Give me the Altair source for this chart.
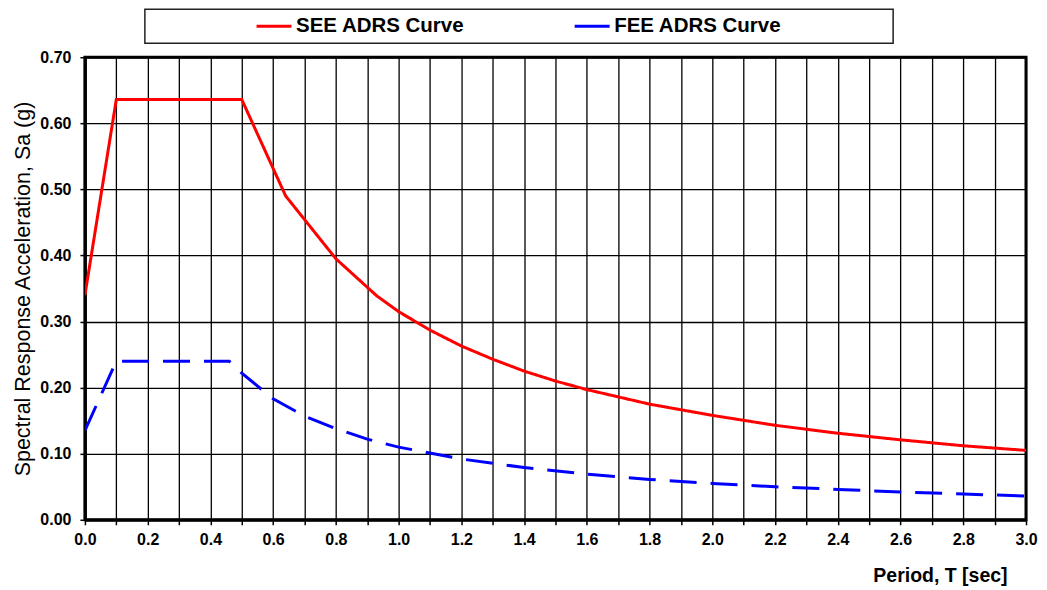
import altair as alt
import pandas as pd

# ---- data ----
T_SEE = [0.0, 0.1, 0.5, 0.64, 0.8, 0.93, 1.0, 1.1, 1.2, 1.3, 1.4, 1.5, 1.6, 1.8, 2.0, 2.2, 2.4, 2.6, 2.8, 3.0]
SA_SEE = [0.34, 0.636, 0.636, 0.49, 0.395, 0.339, 0.315, 0.287, 0.263, 0.243, 0.225, 0.21, 0.197, 0.175, 0.158, 0.143, 0.131, 0.121, 0.112, 0.105]

T_FEE = [0.0, 0.1, 0.46, 0.5, 0.6, 0.7, 0.8, 0.9, 1.0, 1.2, 1.4, 1.6, 1.8, 2.0, 2.2, 2.4, 2.6, 2.8, 3.0]
SA_FEE = [0.135, 0.24, 0.24, 0.222, 0.183, 0.157, 0.138, 0.122, 0.11, 0.092, 0.079, 0.069, 0.061, 0.055, 0.05, 0.046, 0.042, 0.039, 0.036]

SERIES = ["SEE ADRS Curve", "FEE ADRS Curve"]
COLORS = ["#ff0000", "#0000ff"]
DASHES = [[1, 0], [27, 14]]

X_TICKS = [round(i * 0.1, 1) for i in range(31)]
Y_TICKS = [round(i * 0.1, 1) for i in range(8)]

FONT = "Liberation Sans"

df = pd.concat([
    pd.DataFrame({"T": T_SEE, "Sa": SA_SEE, "series": SERIES[0]}),
    pd.DataFrame({"T": T_FEE, "Sa": SA_FEE, "series": SERIES[1]}),
])
leg_df = pd.DataFrame({"series": SERIES})

color = alt.Color("series:N", scale=alt.Scale(domain=SERIES, range=COLORS), legend=None)

x_axis = alt.Axis(
    values=X_TICKS,
    labelExpr="(round(datum.value*10) % 2 == 0) ? format(datum.value, '.1f') : ''",
    grid=True, gridColor="black", gridWidth=1.3, gridOpacity=1,
    domainColor="black", domainWidth=3,
    tickColor="black", tickSize=5, tickWidth=1.5,
    labelFont=FONT, labelFontSize=16, labelFontWeight="bold", labelColor="black",
    labelPadding=7, labelOverlap=False, labelFlush=False,
    title="Period, T [sec]", titleFont=FONT, titleFontSize=19.5, titleFontWeight="bold",
    titleColor="black", titleAlign="right", titleX=923, titleY=62, titleBaseline="alphabetic",
)
y_axis = alt.Axis(
    values=Y_TICKS, format=".2f",
    grid=True, gridColor="black", gridWidth=1.3, gridOpacity=1,
    domainColor="black", domainWidth=3,
    tickColor="black", tickSize=5, tickWidth=1.5,
    labelFont=FONT, labelFontSize=16, labelFontWeight="bold", labelColor="black",
    labelPadding=9, labelFlush=False,
    title="Spectral Response Acceleration, Sa (g)", titleFont=FONT, titleFontSize=21.5,
    titleFontWeight="normal", titleColor="black", titlePadding=5,
)

main = alt.Chart(df).mark_line(strokeWidth=3, clip=True).encode(
    x=alt.X("T:Q", scale=alt.Scale(domain=[0, 3.0], nice=False), axis=x_axis),
    y=alt.Y("Sa:Q", scale=alt.Scale(domain=[0, 0.7], nice=False), axis=y_axis),
    color=color,
    strokeDash=alt.StrokeDash("series:N", scale=alt.Scale(domain=SERIES, range=DASHES), legend=None),
    detail="series:N",
).properties(
    width=942, height=463,
    view=alt.ViewBackground(stroke="black", strokeWidth=3),
)

leg_x = alt.X("series:N", scale=alt.Scale(type="point", domain=SERIES, padding=0.676), axis=None)
leg_sym = alt.Chart(leg_df).mark_point(
    shape="stroke", size=1225, strokeWidth=3, filled=False, xOffset=-86, opacity=1
).encode(x=leg_x, color=color)
leg_txt = alt.Chart(leg_df).mark_text(
    align="left", baseline="middle", dx=-64, font=FONT, fontSize=20.5, fontWeight="bold", color="black"
).encode(x=leg_x, text="series:N")
legend = alt.layer(leg_sym, leg_txt).properties(
    width=749, height=34,
    view=alt.ViewBackground(stroke="#222222", strokeWidth=1.5),
)

# empty spacer panel that pushes the legend box to the right
spacer = alt.Chart(leg_df).mark_text(opacity=0, baseline="middle", fontSize=1).encode(
    x=alt.value(0), y=alt.value(17), text=alt.value("")
).properties(width=59, height=34, view=alt.ViewBackground(stroke=None))

top = alt.hconcat(spacer, legend, spacing=0)

chart = alt.vconcat(top, main, spacing=3).properties(
    padding={"left": 3, "top": 0, "right": 0, "bottom": 0},
).configure(background="white")

chart.save("out.html", embed_options={"renderer": "svg", "actions": False})
